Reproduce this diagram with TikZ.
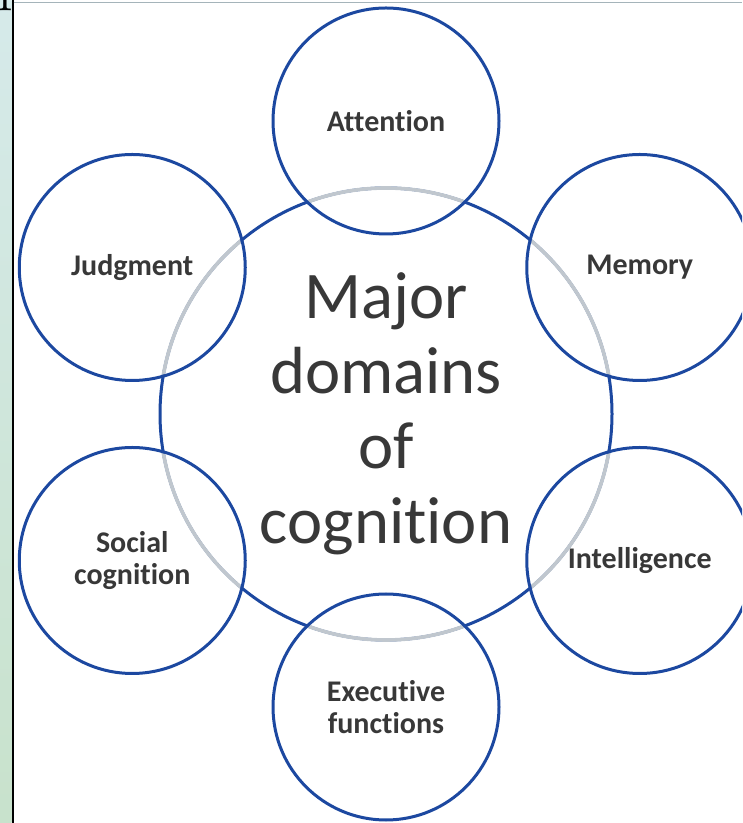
\documentclass[tikz,border=0pt]{standalone}
\usepackage{fontspec}
\setmainfont[Ligatures={NoCommon}]{Carlito}
\newfontfamily\titlefont{Latin Modern Roman}
\usetikzlibrary{calc}
\definecolor{ringblue}{RGB}{28,72,160}
\definecolor{ringgray}{RGB}{192,199,206}
\definecolor{labelgray}{RGB}{56,56,56}
\definecolor{stripTop}{RGB}{214,234,234}
\definecolor{stripBot}{RGB}{200,226,204}
\definecolor{topline}{RGB}{165,180,186}
\tikzset{
  domainring/.style={circle, draw=ringblue, line width=2.25pt,
    minimum size=169.5pt, inner sep=0pt, text=labelgray, align=center,
    font=\fontsize{22.5}{24}\selectfont\bfseries},
  hubring/.style={circle, draw=ringblue, line width=2.25pt, minimum size=339pt,
    inner sep=0pt, text=labelgray, align=center,
    font=\fontsize{50}{56.25}\selectfont},
}
\begin{document}
\begin{tikzpicture}[x=.75pt,y=.75pt]
  \useasboundingbox (0,0) rectangle (742,823);
  \clip (0,0) rectangle (742,823);
  % slide edge
  \shade[top color=stripTop, bottom color=stripBot] (0,0) rectangle (11.5,823);
  \draw[line width=1.5pt] (12.5,0) -- (12.5,823);
  \draw[topline, line width=1.2pt] (13.5,820.5) -- (742,820.5);
  \node[anchor=base west, inner sep=0pt, font=\titlefont\fontsize{47}{50}\selectfont]
    (ptitle) at (-3,824.5) {p};

  \coordinate (ctr) at (386,409);
  \node[hubring] (hub) at (ctr) {Major\\domains\\of\\cognition};

  \foreach \ang/\name/\txt in {90/attn/Attention, 30/mem/Memory,
      -30/intel/Intelligence, -90/exec/{Executive\\functions},
      210/social/{Social\\cognition}, 150/judg/Judgment}
    \node[domainring] (\name) at ($(ctr)+(\ang:293)$) {\txt};

  % hub ring fades inside the small rings
  \begin{scope}
    \clip \foreach \name in {attn,mem,intel,exec,social,judg}
      {(\name.center) circle (111.3)};
    \draw[ringgray, line width=2.7pt] (hub.center) circle (226);
  \end{scope}
\end{tikzpicture}
\end{document}
